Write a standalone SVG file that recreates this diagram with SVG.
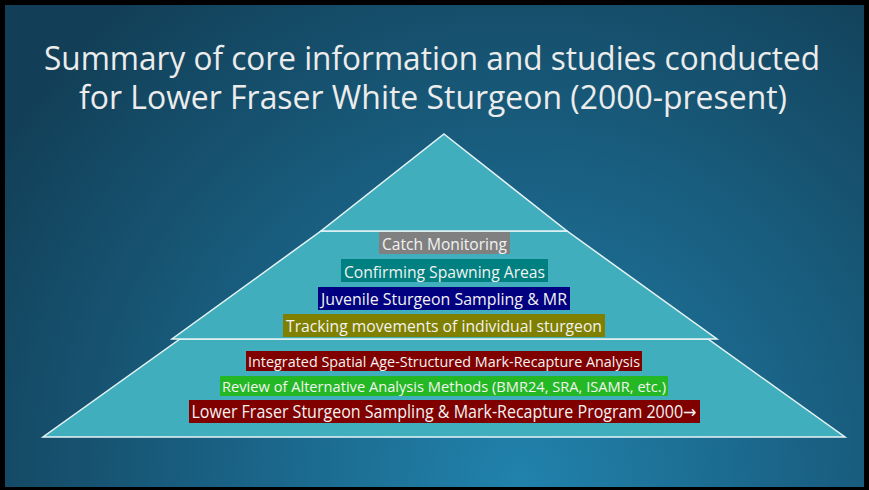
<svg xmlns="http://www.w3.org/2000/svg" width="869" height="490" viewBox="0 0 869 490">
  <defs>
    <radialGradient id="bg" gradientUnits="userSpaceOnUse" cx="520" cy="480" r="620">
      <stop offset="0" stop-color="#2182AC"/>
      <stop offset="0.45" stop-color="#1A6386"/>
      <stop offset="1" stop-color="#123F57"/>
    </radialGradient>
    <style>
      .tier { fill: #41AEBD; stroke: #E6F4F6; stroke-width: 1.5; stroke-linejoin: miter; }
      .title { font-family: "Open Sans", "Noto Sans", "Liberation Sans", sans-serif; font-size: 32px; fill: #ECECEC; text-anchor: middle; }
      .lbl { font-family: "Open Sans", "Noto Sans", "DejaVu Sans", sans-serif; fill: #F2F2F2; text-anchor: middle; }
      .m { font-size: 17px; }
      .s { font-size: 15px; }
      .l { font-size: 17.5px; }
    </style>
  </defs>
  <rect x="0" y="0" width="869" height="490" fill="#000000"/>
  <rect x="5" y="5" width="859" height="482" fill="url(#bg)"/>

  <g id="title">
    <text class="title" x="432" y="70" textLength="776" lengthAdjust="spacingAndGlyphs">Summary of core information and studies conducted</text>
    <text class="title" x="433" y="109" textLength="708" lengthAdjust="spacingAndGlyphs">for Lower Fraser White Sturgeon (2000-present)</text>
  </g>

  <g id="pyramid">
    <g id="tier-bottom">
      <polygon class="tier" points="180,339 708,339 845,437 43,437"/>
    </g>
    <g id="tier-middle">
      <polygon class="tier" points="321,231 567,231 717,339 172,339"/>
    </g>
    <g id="tier-top">
      <polygon class="tier" points="444,134 567,231 321,231"/>
    </g>
  </g>

  <g id="label-catch">
    <rect x="379" y="232" width="131" height="22" fill="#808080"/>
    <text class="lbl m" x="444.5" y="249.5" textLength="125" lengthAdjust="spacingAndGlyphs">Catch Monitoring</text>
  </g>
  <g id="label-spawning">
    <rect x="341" y="259" width="207" height="23" fill="#008080"/>
    <text class="lbl m" x="444.5" y="277.5" textLength="201" lengthAdjust="spacingAndGlyphs">Confirming Spawning Areas</text>
  </g>
  <g id="label-juvenile">
    <rect x="318" y="287" width="252" height="23" fill="#000080"/>
    <text class="lbl m" x="444" y="304.5" textLength="246" lengthAdjust="spacingAndGlyphs">Juvenile Sturgeon Sampling &amp; MR</text>
  </g>
  <g id="label-tracking">
    <rect x="283" y="314" width="322" height="23" fill="#808000"/>
    <text class="lbl m" x="444" y="332" textLength="316" lengthAdjust="spacingAndGlyphs">Tracking movements of individual sturgeon</text>
  </g>

  <g id="label-integrated">
    <rect x="246" y="351" width="396" height="20" fill="#800000"/>
    <text class="lbl s" x="444" y="366.5" textLength="392" lengthAdjust="spacingAndGlyphs">Integrated Spatial Age-Structured Mark-Recapture Analysis</text>
  </g>
  <g id="label-review">
    <rect x="220" y="376" width="448" height="20" fill="#24B924"/>
    <text class="lbl s" x="444" y="391.5" textLength="444" lengthAdjust="spacingAndGlyphs">Review of Alternative Analysis Methods (BMR24, SRA, ISAMR, etc.)</text>
  </g>
  <g id="label-program">
    <rect x="189" y="400" width="511" height="23" fill="#800000"/>
    <text class="lbl l" x="444" y="417.5" textLength="505" lengthAdjust="spacingAndGlyphs">Lower Fraser Sturgeon Sampling &amp; Mark-Recapture Program 2000→</text>
  </g>
</svg>
